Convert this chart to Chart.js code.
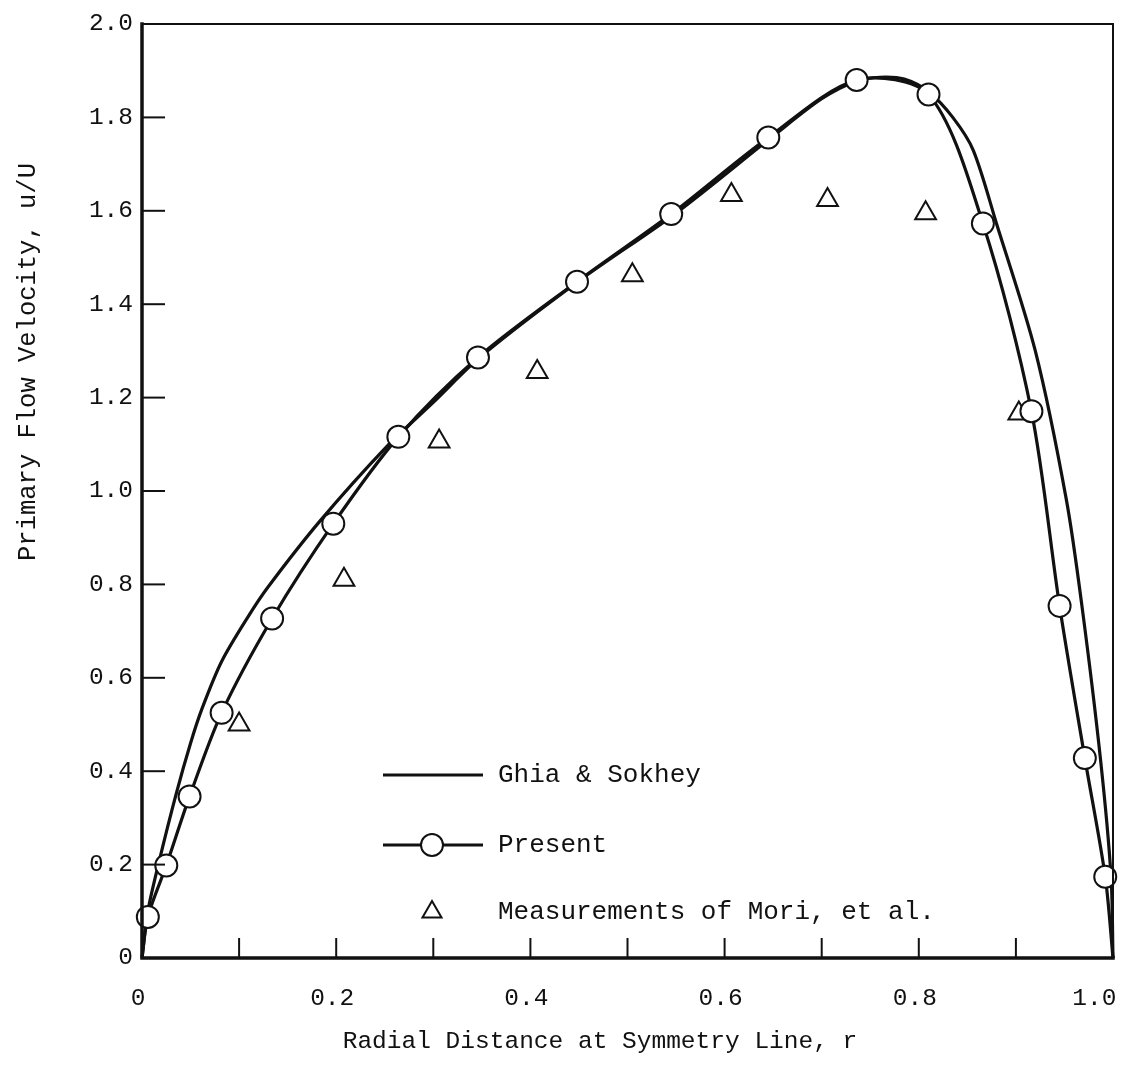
<!DOCTYPE html>
<html>
<head>
<meta charset="utf-8">
<script src="https://cdn.jsdelivr.net/npm/chart.js@4/dist/chart.umd.min.js"></script>
<style>
  html, body { margin: 0; padding: 0; background: #fff; }
  #wrap { width: 1127px; height: 1075px; }
</style>
</head>
<body>
<div id="wrap"><canvas id="flowChart"></canvas></div>
<script>
// Ghia & Sokhey (solid curve)
const ghiaR = [0, 0.006, 0.018, 0.035, 0.05, 0.062, 0.082, 0.109, 0.13, 0.183, 0.252, 0.3, 0.35, 0.45, 0.55, 0.65, 0.7, 0.736, 0.76, 0.785, 0.81, 0.835, 0.856, 0.88, 0.92, 0.952, 0.968, 0.987, 0.998, 1.0];
const ghiaU = [0, 0.1, 0.21, 0.35, 0.46, 0.535, 0.635, 0.73, 0.795, 0.935, 1.095, 1.19, 1.29, 1.45, 1.595, 1.76, 1.84, 1.878, 1.886, 1.882, 1.855, 1.8, 1.73, 1.573, 1.30, 0.981, 0.754, 0.428, 0.174, 0];

// Present (curve with circles; first and last points are the curve ends)
const presentR = [0, 0.006, 0.025, 0.049, 0.082, 0.134, 0.197, 0.264, 0.346, 0.448, 0.545, 0.645, 0.736, 0.81, 0.866, 0.916, 0.945, 0.971, 0.992, 1.0];
const presentU = [0, 0.088, 0.198, 0.346, 0.525, 0.727, 0.93, 1.116, 1.286, 1.448, 1.593, 1.757, 1.88, 1.849, 1.573, 1.171, 0.754, 0.428, 0.174, 0];

// Measurements of Mori, et al. (triangles)
const moriR = [0.1, 0.208, 0.306, 0.407, 0.505, 0.607, 0.706, 0.807, 0.903];
const moriU = [0.5, 0.81, 1.106, 1.255, 1.462, 1.634, 1.623, 1.595, 1.166];

const xTickValues = [0, 0.1, 0.2, 0.3, 0.4, 0.5, 0.6, 0.7, 0.8, 0.9, 1.0];
const xTickLabels = ["0", "", "0.2", "", "0.4", "", "0.6", "", "0.8", "", "1.0  "];
const yTickValues = [0, 0.2, 0.4, 0.6, 0.8, 1.0, 1.2, 1.4, 1.6, 1.8, 2.0];
const yTickLabels = ["0", "0.2", "0.4", "0.6", "0.8", "1.0", "1.2", "1.4", "1.6", "1.8", "2.0"];

const FONT = "'Liberation Mono', 'DejaVu Sans Mono', monospace";
const INK = "#111";

const toPoints = (xs, ys) => xs.map((x, i) => ({ x: x, y: ys[i] }));

// frame, inward ticks, axis titles and legend
const paperPlugin = {
  id: "paper",
  afterDraw(chart) {
    const ctx = chart.ctx;
    const a = chart.chartArea;
    const xs = chart.scales.x, ys = chart.scales.y;
    ctx.save();
    ctx.strokeStyle = INK;
    ctx.lineCap = "square";

    // frame
    ctx.lineWidth = 2;
    ctx.beginPath();
    ctx.moveTo(a.left, a.top); ctx.lineTo(a.right, a.top); ctx.lineTo(a.right, a.bottom);
    ctx.stroke();
    ctx.lineWidth = 3.5;
    ctx.beginPath();
    ctx.moveTo(a.left, a.top); ctx.lineTo(a.left, a.bottom); ctx.lineTo(a.right, a.bottom);
    ctx.stroke();

    // inward ticks
    ctx.lineWidth = 2;
    ctx.lineCap = "butt";
    xTickValues.forEach((v) => {
      if (v <= 0 || v >= 1) return;
      const px = xs.getPixelForValue(v);
      ctx.beginPath(); ctx.moveTo(px, a.bottom); ctx.lineTo(px, a.bottom - 20); ctx.stroke();
    });
    yTickValues.forEach((v) => {
      if (v <= 0 || v >= 2) return;
      const py = ys.getPixelForValue(v);
      ctx.beginPath(); ctx.moveTo(a.left, py); ctx.lineTo(a.left + 23, py); ctx.stroke();
    });

    // axis titles
    ctx.fillStyle = INK;
    ctx.font = "24.5px " + FONT;
    ctx.textAlign = "center";
    ctx.textBaseline = "middle";
    ctx.fillText("Radial Distance at Symmetry Line, r", 600, 1042);
    ctx.save();
    ctx.translate(28, 362);
    ctx.rotate(-Math.PI / 2);
    ctx.font = "25.5px " + FONT;
    ctx.fillText("Primary Flow Velocity, u/U", 0, 0);
    ctx.restore();

    // legend
    const ds = chart.data.datasets;
    const lx0 = a.left + 241, lx1 = a.left + 341, lmid = a.left + 290, tx = a.left + 356;
    const rows = [775, 845, 912];
    ctx.textAlign = "left";
    ctx.font = "26px " + FONT;
    ctx.lineWidth = 3;
    // Ghia line
    ctx.beginPath(); ctx.moveTo(lx0, rows[0]); ctx.lineTo(lx1, rows[0]); ctx.stroke();
    ctx.fillText(ds[0].label, tx, rows[0]);
    // Present line + circle
    ctx.beginPath(); ctx.moveTo(lx0, rows[1]); ctx.lineTo(lx1, rows[1]); ctx.stroke();
    ctx.beginPath(); ctx.arc(lmid, rows[1], 11, 0, Math.PI * 2);
    ctx.fillStyle = "#fff"; ctx.fill(); ctx.lineWidth = 2; ctx.stroke();
    ctx.fillStyle = INK;
    ctx.fillText(ds[1].label, tx, rows[1]);
    // triangle
    const r = 11;
    ctx.beginPath();
    ctx.moveTo(lmid, rows[2] - r);
    ctx.lineTo(lmid + r * Math.cos(Math.PI / 6), rows[2] + r / 2);
    ctx.lineTo(lmid - r * Math.cos(Math.PI / 6), rows[2] + r / 2);
    ctx.closePath();
    ctx.stroke();
    ctx.fillText(ds[2].label, tx, rows[2]);
    ctx.restore();
  }
};

const ctx = document.getElementById("flowChart").getContext("2d");
const flowChart = new Chart(ctx, {
  type: "scatter",
  data: {
    datasets: [
      {
        label: "Ghia & Sokhey",
        data: toPoints(ghiaR, ghiaU),
        showLine: true,
        borderColor: INK,
        borderWidth: 3.2,
        pointRadius: 0,
        tension: 0.3,
        clip: false,
        order: 3,
      },
      {
        label: "Present",
        data: toPoints(presentR, presentU),
        showLine: true,
        borderColor: INK,
        borderWidth: 3.2,
        tension: 0.3,
        pointRadius: (c) => (c.dataIndex === 0 || c.dataIndex === presentR.length - 1 ? 0 : 11),
        pointBackgroundColor: "#fff",
        pointBorderColor: INK,
        pointBorderWidth: 2,
        clip: false,
        order: 1,
      },
      {
        label: "Measurements of Mori, et al.",
        data: toPoints(moriR, moriU),
        showLine: false,
        pointStyle: "triangle",
        pointRadius: 12,
        pointBackgroundColor: "rgba(255,255,255,0)",
        pointBorderColor: INK,
        pointBorderWidth: 2,
        clip: false,
        order: 2,
      },
    ],
  },
  options: {
    responsive: true,
    maintainAspectRatio: false,
    animation: false,
    layout: { padding: { left: 0, top: 24, right: 14, bottom: 0 } },
    plugins: {
      legend: { display: false },
      title: { display: false },
      tooltip: { enabled: false },
    },
    scales: {
      x: {
        type: "linear",
        min: 0,
        max: 1,
        afterBuildTicks: (s) => { s.ticks = xTickValues.map((v) => ({ value: v })); },
        afterFit: (s) => { s.height = 117; s.paddingLeft = 0; s.paddingRight = 0; },
        grid: { display: false, drawTicks: false },
        border: { display: false },
        ticks: {
          padding: 26,
          labelOffset: -4,
          maxRotation: 0,
          autoSkip: false,
          color: INK,
          font: { family: FONT, size: 24.5 },
          callback: (v, i) => xTickLabels[i],
        },
      },
      y: {
        type: "linear",
        min: 0,
        max: 2,
        afterBuildTicks: (s) => { s.ticks = yTickValues.map((v) => ({ value: v })); },
        afterFit: (s) => { s.width = 142; s.paddingTop = 0; s.paddingBottom = 0; },
        grid: { display: false, drawTicks: false },
        border: { display: false },
        ticks: {
          padding: 9,
          autoSkip: false,
          color: INK,
          font: { family: FONT, size: 24.5 },
          callback: (v, i) => yTickLabels[i],
        },
      },
    },
  },
  plugins: [paperPlugin],
});
</script>
</body>
</html>
